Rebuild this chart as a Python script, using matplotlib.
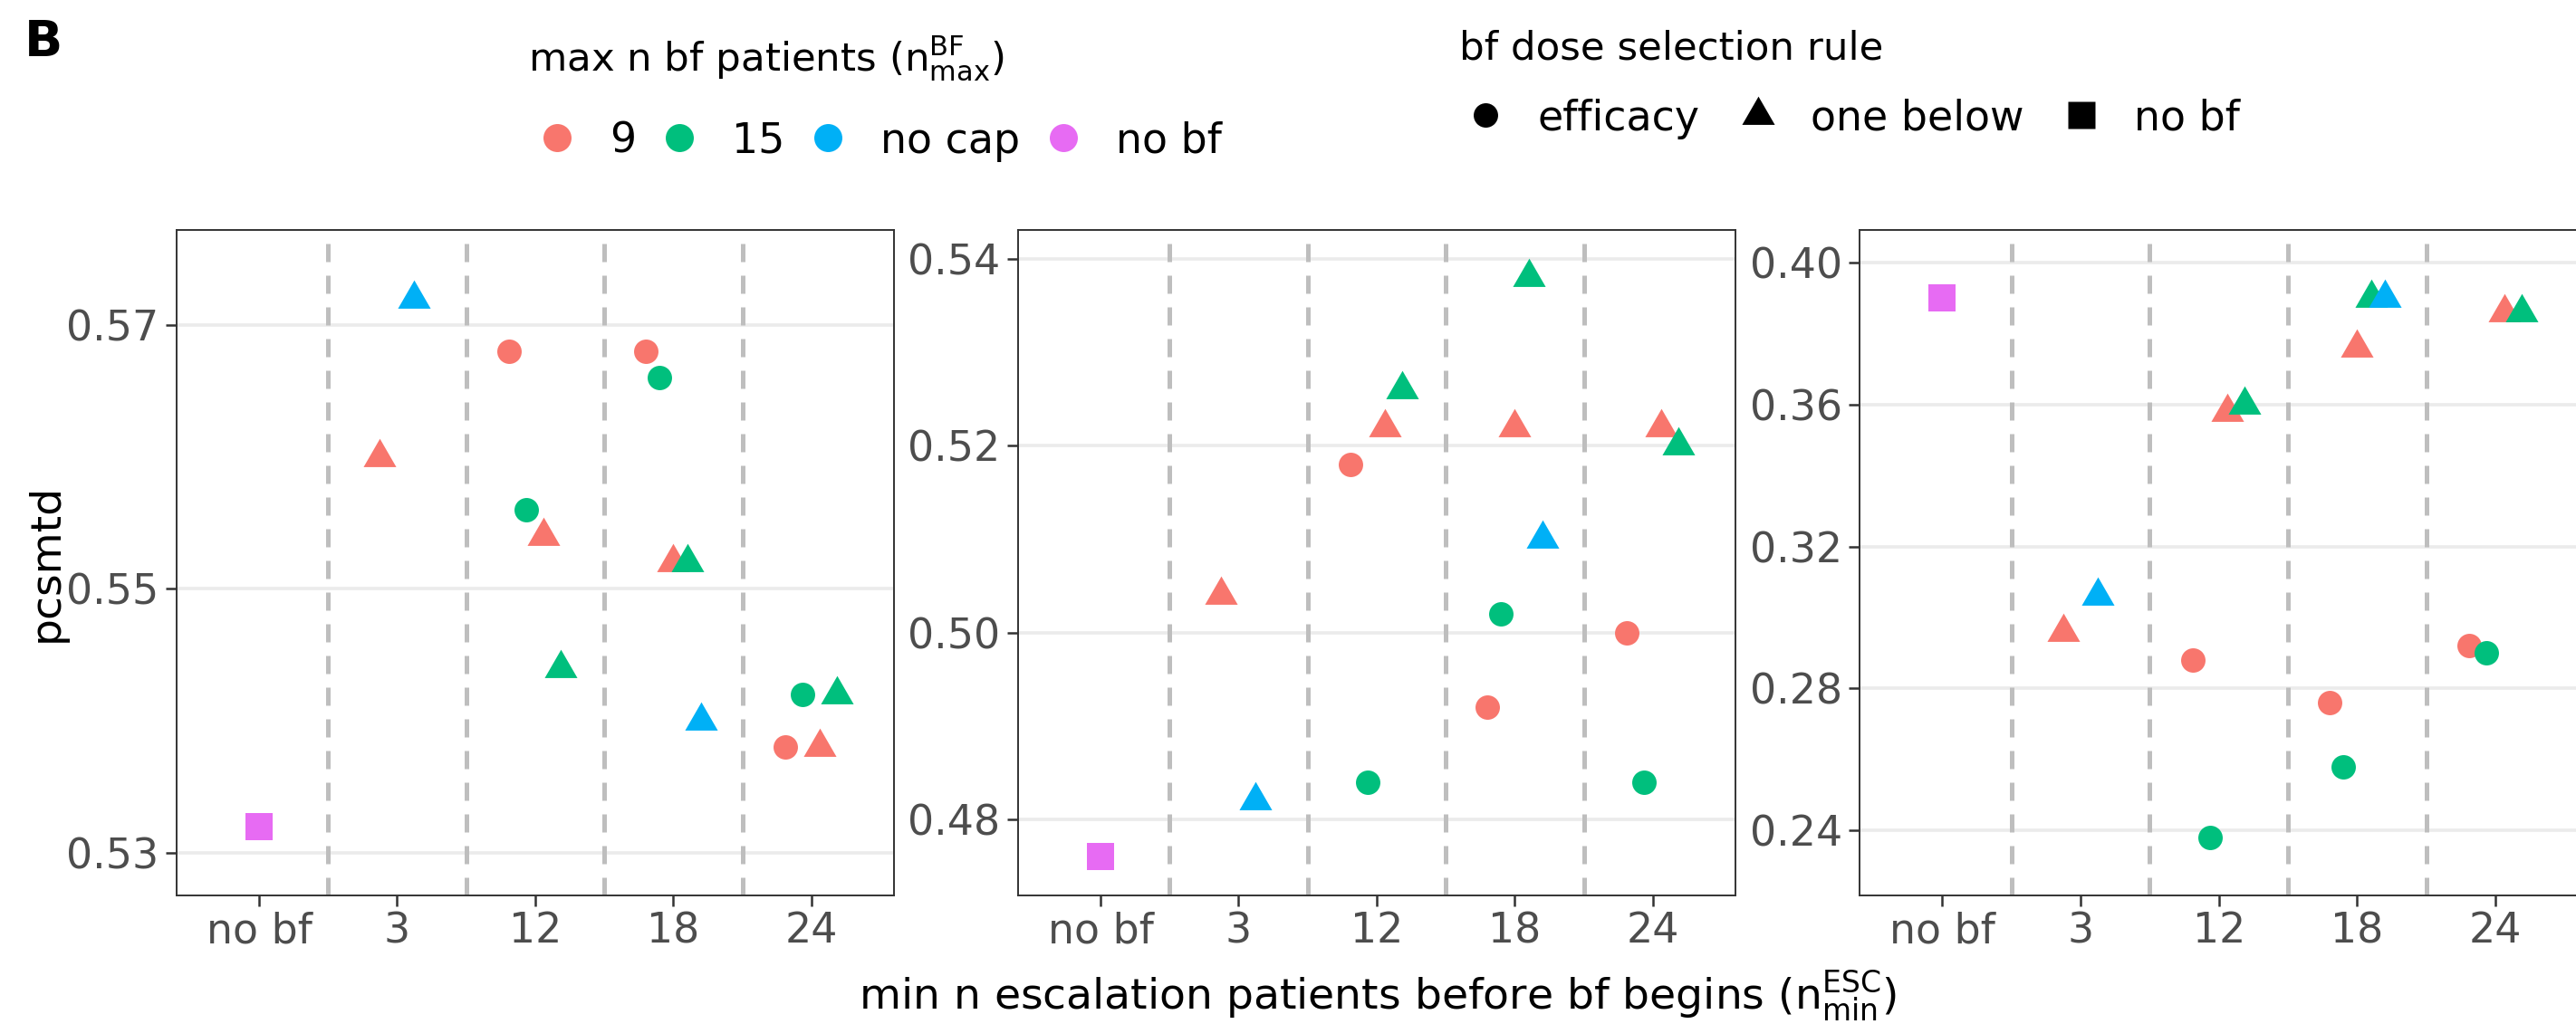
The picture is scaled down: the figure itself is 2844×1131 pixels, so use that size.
import numpy as np
import matplotlib
matplotlib.use('Agg')
import matplotlib.pyplot as plt
from matplotlib.path import Path
from matplotlib.lines import Line2D

# x categories: min n escalation patients before bf begins
esc_levels = ['no bf', '3', '12', '18', '24']

# one entry per design (same designs in every panel)
esc = ['no bf', '3', '3', '12', '12', '12', '12',
       '18', '18', '18', '18', '18', '24', '24', '24', '24']
cap = ['no bf', '9', 'no cap', '9', '15', '9', '15',
       '9', '15', '9', '15', 'no cap', '9', '15', '9', '15']
rule = ['no bf', 'one below', 'one below', 'efficacy', 'efficacy', 'one below', 'one below',
        'efficacy', 'efficacy', 'one below', 'one below', 'one below',
        'efficacy', 'efficacy', 'one below', 'one below']

pcsmtd_1 = [0.532, 0.560, 0.572, 0.568, 0.556, 0.554, 0.544,
            0.568, 0.566, 0.552, 0.552, 0.540, 0.538, 0.542, 0.538, 0.542]
pcsmtd_2 = [0.476, 0.504, 0.482, 0.518, 0.484, 0.522, 0.526,
            0.492, 0.502, 0.522, 0.538, 0.510, 0.500, 0.484, 0.522, 0.520]
pcsmtd_3 = [0.390, 0.296, 0.306, 0.288, 0.238, 0.358, 0.360,
            0.276, 0.258, 0.376, 0.390, 0.390, 0.292, 0.290, 0.386, 0.386]

yticks_1 = [0.53, 0.55, 0.57]
yticks_2 = [0.48, 0.50, 0.52, 0.54]
yticks_3 = [0.24, 0.28, 0.32, 0.36, 0.40]

ylim_1 = (0.5268, 0.5772)
ylim_2 = (0.4719, 0.5431)
ylim_3 = (0.2218, 0.4092)

cap_levels = ['9', '15', 'no cap', 'no bf']
cap_colours = ['#F8766D', '#00BF7D', '#00B0F6', '#E76BF3']
rule_levels = ['efficacy', 'one below', 'no bf']

# R style filled triangle (pch 17), centred on its centroid
tri = Path([(0, 1.5551), (1.3468, -0.7776), (-1.3468, -0.7776), (0, 1.5551)],
           [Path.MOVETO, Path.LINETO, Path.LINETO, Path.CLOSEPOLY])
rule_marker = {'efficacy': 'o', 'one below': tri, 'no bf': 's'}
rule_size = {'efficacy': 19.4**2, 'one below': 30.0**2, 'no bf': 20.9**2}
colour_of = dict(zip(cap_levels, cap_colours))

W, H = 2844, 1131
fig = plt.figure(figsize=(W/100, H/100), dpi=100)
plt.rcParams['font.family'] = 'DejaVu Sans'

def panel(left, right, top=253.7, bottom=988.7):
    return fig.add_axes([left/W, 1 - bottom/H, (right - left)/W, (bottom - top)/H])

# dodge positions, width 0.5 shared by the designs at each x
xpos = np.zeros(len(esc))
for i_lvl, lvl in enumerate(esc_levels):
    idx = [i for i, e in enumerate(esc) if e == lvl]
    n = len(idx)
    for k, i in enumerate(idx):
        xpos[i] = i_lvl + 1 + (k - (n - 1)/2) * 0.5/n

panels = [(194.5, 987.2, pcsmtd_1, yticks_1, ylim_1),
          (1123.5, 1916.2, pcsmtd_2, yticks_2, ylim_2),
          (2052.9, 2846.6, pcsmtd_3, yticks_3, ylim_3)]

for left, right, vals, ticks, lim in panels:
    ax = panel(left, right)
    vals = np.array(vals)
    for r in rule_levels:
        for c in cap_levels:
            m = np.array([(rr == r and cc == c) for rr, cc in zip(rule, cap)])
            if m.sum() == 0:
                continue
            ax.scatter(xpos[m], vals[m], marker=rule_marker[r], s=rule_size[r],
                       color=colour_of[c], linewidths=0, zorder=3)
    for xv in [1.5, 2.5, 3.5, 4.5]:
        ax.axvline(xv, color='#BEBEBE', lw=3.6, ls=(0, (4, 3)), zorder=1.5)
    ax.set_xlim(0.4, 5.6)
    ax.set_ylim(*lim)
    ax.set_xticks(range(1, 6))
    ax.set_xticklabels(esc_levels)
    ax.set_yticks(ticks)
    ax.set_yticklabels(['%.2f' % t for t in ticks])
    ax.yaxis.grid(True, color='#EBEBEB', lw=2.6)
    ax.set_axisbelow(True)
    for s in ax.spines.values():
        s.set_color('#333333')
        s.set_linewidth(1.4)
    ax.tick_params(length=8.6, width=1.8, color='#333333', labelcolor='#4D4D4D',
                   labelsize=33)
    ax.tick_params(axis='x', pad=4)
    ax.tick_params(axis='y', pad=5)

fig.text(51/W, 1 - 621/H, 'pcsmtd', rotation=90, ha='center', va='center', fontsize=34)
fig.text(1521/W, 1 - 1115/H,
         r'min n escalation patients before bf begins ($\mathregular{n^{ESC}_{min}}$)',
         ha='center', va='baseline', fontsize=34)
fig.text(27/W, 1 - 62/H, 'B', fontweight='bold', fontsize=40, va='baseline')

# legends
fig.text(583/W, 1 - 78/H, r'max n bf patients ($\mathregular{n^{BF}_{max}}$)',
         fontsize=31.3, va='baseline')
fig.text(1611/W, 1 - 65/H, 'bf dose selection rule', fontsize=31.3, va='baseline')

cap_handles = [Line2D([], [], ls='none', marker='o', ms=22.3, mfc=col, mec='none')
               for col in cap_colours]
fig.legend(cap_handles, cap_levels, loc='center left', bbox_to_anchor=(592/W, 1 - 156/H),
           ncol=4, frameon=False, fontsize=33, handlelength=1.0, handletextpad=0.76,
           columnspacing=0.55, borderpad=0, borderaxespad=0)

rule_handles = [Line2D([], [], ls='none', marker=rule_marker[r],
                       ms=np.sqrt(rule_size[r]), mfc='black', mec='none')
                for r in rule_levels]
fig.legend(rule_handles, rule_levels, loc='center left', bbox_to_anchor=(1617/W, 1 - 131/H),
           ncol=3, frameon=False, fontsize=33, handlelength=1.0, handletextpad=0.76,
           columnspacing=0.9, borderpad=0, borderaxespad=0)

fig.savefig('out.png', dpi=100)
